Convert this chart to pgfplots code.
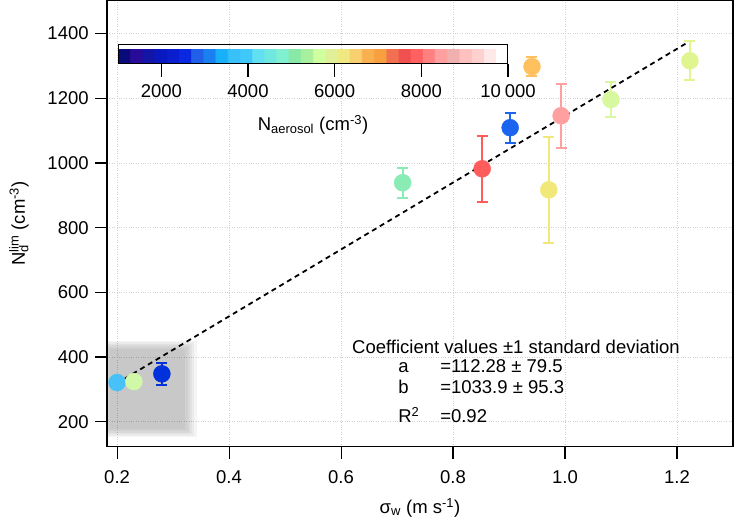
\documentclass[border=0pt]{standalone}
\usepackage{fontspec}
\setmainfont{Liberation Sans}
\usepackage{pgfplots}
\pgfplotsset{compat=1.18}

% marker colours
\definecolor{cA}{RGB}{72,192,248}
\definecolor{cB}{RGB}{208,248,168}
\definecolor{cC}{RGB}{0,50,220}
\definecolor{cD}{RGB}{136,236,180}
\definecolor{cE}{RGB}{255,92,92}
\definecolor{cF}{RGB}{26,100,240}
\definecolor{cG}{RGB}{240,232,120}
\definecolor{cH}{RGB}{255,160,160}
\definecolor{cI}{RGB}{216,248,160}
\definecolor{cJ}{RGB}{224,245,144}
\definecolor{cK}{RGB}{255,192,96}

\pgfplotsset{
  pt/.style={only marks, mark=*, mark size=8.5pt, color=#1,
    error bars/.cd, y dir=both, y explicit,
    error bar style={line width=2pt},
    error mark options={rotate=90, mark size=5.5pt, line width=2pt}},
  ptn/.style={only marks, mark=*, mark size=8.5pt, color=#1},
  shade/.style={draw=none, fill=black, fill opacity=0.04},
}

\begin{document}
\fontsize{18.5}{22}\selectfont
\begin{tikzpicture}
\begin{axis}[
  name=main,
  scale only axis, width=626pt, height=446pt,
  xmin=0.182, xmax=1.3, ymin=123, ymax=1502,
  xtick={0.2,0.4,0.6,0.8,1.0,1.2},
  xticklabels={0.2,0.4,0.6,0.8,1.0,1.2},
  ytick={200,400,600,800,1000,1200,1400},
  yticklabels={200,400,600,800,1000,1200,1400},
  tick align=outside, tick pos=left, major tick length=12pt,
  every tick/.style={black, line width=1.1pt},
  xticklabel style={yshift=-6pt},
  axis line style={line width=1.2pt},
  grid=major, grid style={dotted, black!18, line width=0.9pt},
  xlabel={σ\textsubscript{w} (m s\textsuperscript{-1})},
  ylabel={N\rlap{\textsubscript{d}}\textsuperscript{lim} (cm\textsuperscript{-3})},
  xlabel style={at={([yshift=-61pt]axis description cs:0.5,0)}, anchor=center},
  ylabel style={at={([xshift=-88pt]axis description cs:0,0.5)}, anchor=center},
  colormap={igor}{
    rgb255(0pt)=(10,10,120) rgb255(19pt)=(10,10,120)
    rgb255(20pt)=(42,10,152) rgb255(39pt)=(42,10,152)
    rgb255(40pt)=(20,20,168) rgb255(59pt)=(20,20,168)
    rgb255(60pt)=(10,24,192) rgb255(79pt)=(10,24,192)
    rgb255(80pt)=(10,30,208) rgb255(99pt)=(10,30,208)
    rgb255(100pt)=(10,40,224) rgb255(119pt)=(10,40,224)
    rgb255(120pt)=(32,96,232) rgb255(139pt)=(32,96,232)
    rgb255(140pt)=(26,128,240) rgb255(159pt)=(26,128,240)
    rgb255(160pt)=(24,176,248) rgb255(179pt)=(24,176,248)
    rgb255(180pt)=(56,192,248) rgb255(199pt)=(56,192,248)
    rgb255(200pt)=(64,200,248) rgb255(219pt)=(64,200,248)
    rgb255(220pt)=(96,224,240) rgb255(239pt)=(96,224,240)
    rgb255(240pt)=(112,232,224) rgb255(259pt)=(112,232,224)
    rgb255(260pt)=(128,240,208) rgb255(279pt)=(128,240,208)
    rgb255(280pt)=(136,232,168) rgb255(299pt)=(136,232,168)
    rgb255(300pt)=(168,240,160) rgb255(319pt)=(168,240,160)
    rgb255(320pt)=(208,255,160) rgb255(339pt)=(208,255,160)
    rgb255(340pt)=(224,240,152) rgb255(359pt)=(224,240,152)
    rgb255(360pt)=(240,232,128) rgb255(379pt)=(240,232,128)
    rgb255(380pt)=(248,208,112) rgb255(399pt)=(248,208,112)
    rgb255(400pt)=(248,176,80) rgb255(419pt)=(248,176,80)
    rgb255(420pt)=(248,160,64) rgb255(439pt)=(248,160,64)
    rgb255(440pt)=(240,112,80) rgb255(459pt)=(240,112,80)
    rgb255(460pt)=(240,80,80) rgb255(479pt)=(240,80,80)
    rgb255(480pt)=(255,96,96) rgb255(499pt)=(255,96,96)
    rgb255(500pt)=(255,128,128) rgb255(519pt)=(255,128,128)
    rgb255(520pt)=(255,160,160) rgb255(539pt)=(255,160,160)
    rgb255(540pt)=(240,176,176) rgb255(559pt)=(240,176,176)
    rgb255(560pt)=(255,192,192) rgb255(579pt)=(255,192,192)
    rgb255(580pt)=(255,208,208) rgb255(599pt)=(255,208,208)
    rgb255(600pt)=(255,232,232) rgb255(619pt)=(255,232,232)
    rgb255(620pt)=(255,255,255) rgb255(640pt)=(255,255,255)
  },
  point meta min=1000, point meta max=10000,
  colorbar horizontal,
  colorbar style={
    at={(parent axis.north west)}, anchor=north west,
    xshift=11pt, yshift=-35.5pt,
    scale only axis, width=390pt, height=19pt,
    axis on top,
    scaled x ticks=false,
    xtick={2000,4000,6000,8000,10000},
    xticklabels={2000,4000,6000,8000,10\hspace{4pt}000},
    xtick pos=left, xtick align=outside, major tick length=13pt,
    every tick/.style={black, line width=1.1pt},
    axis line style={line width=1pt},
    ytick=\empty,
    xticklabel style={yshift=-2pt},
    xlabel={N\textsubscript{aerosol} (cm\textsuperscript{-3})},
    xlabel style={at={([yshift=-61pt]axis description cs:0.5,0)}, anchor=center},
  },
]
% soft grey box behind the three low points (stacked translucent layers)
\addplot[shade] coordinates {(0.168,152) (0.342,152) (0.342,450) (0.168,450)};
\addplot[shade] coordinates {(0.172,156) (0.338,156) (0.338,446) (0.172,446)};
\addplot[shade] coordinates {(0.176,161) (0.334,161) (0.334,441) (0.176,441)};
\addplot[shade] coordinates {(0.180,166) (0.330,166) (0.330,436) (0.180,436)};
\addplot[shade] coordinates {(0.184,171) (0.326,171) (0.326,431) (0.184,431)};
\addplot[shade] coordinates {(0.188,176) (0.322,176) (0.322,426) (0.188,426)};

\addplot[ptn=cA] coordinates {(0.200,321)};
\addplot[ptn=cB] coordinates {(0.230,324)};
\addplot[pt=cC] coordinates {(0.280,348) +- (0,34)};
\addplot[pt=cD] coordinates {(0.710,939) +- (0,46)};
\addplot[pt=cE] coordinates {(0.852,982) +- (0,102)};
\addplot[pt=cF] coordinates {(0.902,1109) +- (0,47)};
\addplot[pt=cK] coordinates {(0.941,1298) +- (0,29)};
\addplot[pt=cG] coordinates {(0.971,917) +- (0,164)};
\addplot[pt=cH] coordinates {(0.993,1146) +- (0,99)};
\addplot[pt=cI] coordinates {(1.082,1196) +- (0,54)};
\addplot[pt=cJ] coordinates {(1.223,1316) +- (0,60)};

% fit N = a + b*sigma
\addplot[black, line width=1.8pt, dash pattern=on 5pt off 4pt] coordinates {(0.2,319.06) (1.22,1373.64)};

\node[anchor=base west, inner sep=0] at (axis cs:0.6196,410) {Coefficient values ±1 standard deviation};
\node[anchor=base west, inner sep=0] at (axis cs:0.7018,351) {a};
\node[anchor=base west, inner sep=0] at (axis cs:0.7768,351) {=112.28 ± 79.5};
\node[anchor=base west, inner sep=0] at (axis cs:0.7018,286) {b};
\node[anchor=base west, inner sep=0] at (axis cs:0.7768,286) {=1033.9 ± 95.3};
\node[anchor=base west, inner sep=0] at (axis cs:0.7018,197) {R\textsuperscript{2}};
\node[anchor=base west, inner sep=0] at (axis cs:0.7768,197) {=0.92};
\end{axis}
\path (main.south west) ++(-107pt,-71pt) rectangle ++(735pt,517pt);
\end{tikzpicture}
\end{document}
